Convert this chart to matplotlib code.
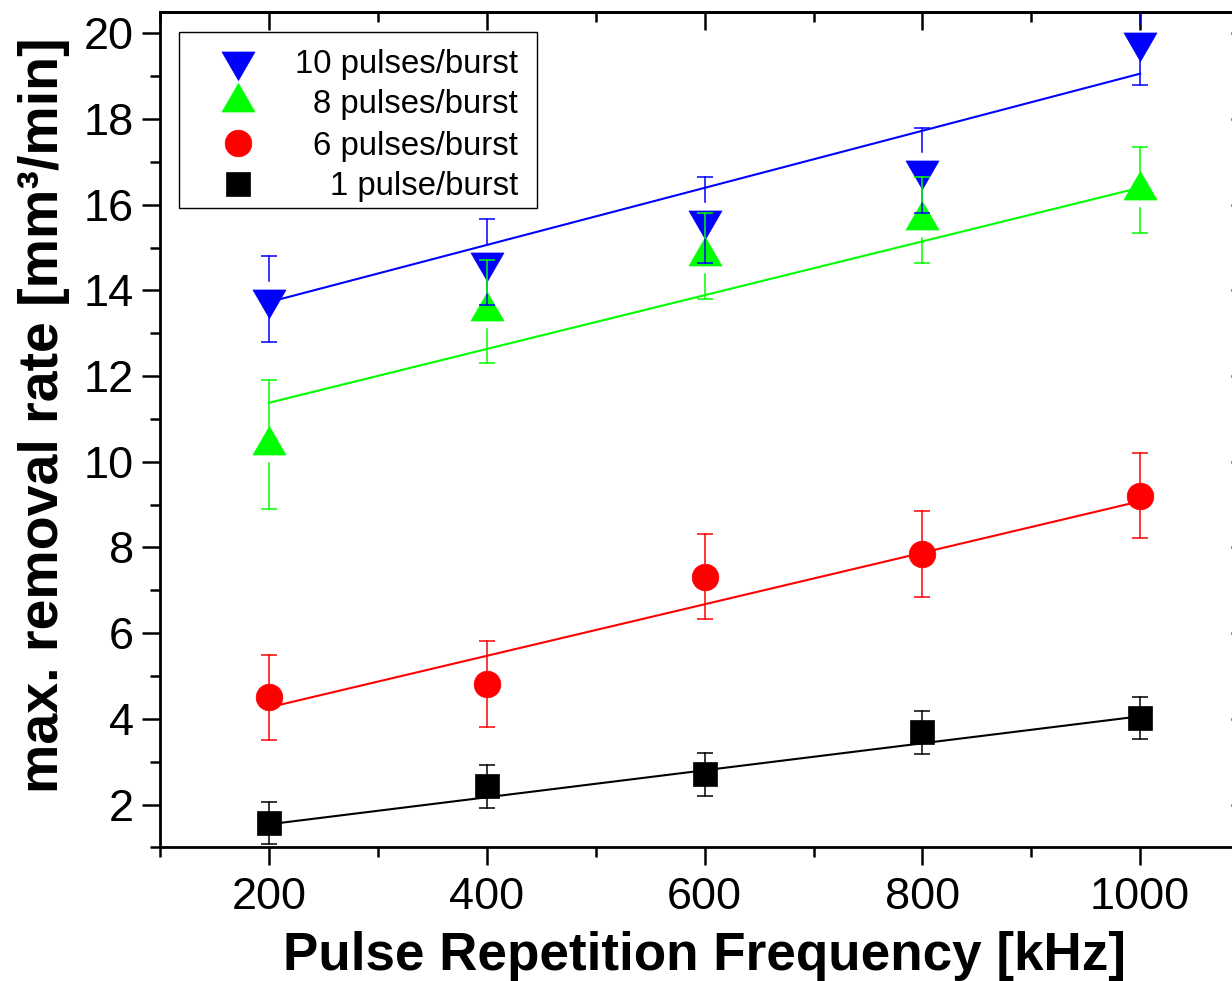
import numpy as np
import matplotlib
matplotlib.use('Agg')
import matplotlib.pyplot as plt
from matplotlib.path import Path
from matplotlib.patches import Rectangle
from matplotlib.ticker import MultipleLocator

plt.rcParams['font.family'] = ['Liberation Sans', 'DejaVu Sans']

# ---------------- data ----------------
freq = [200, 400, 600, 800, 1000]
series_labels = ['10 pulses/burst', '8 pulses/burst', '6 pulses/burst', '1 pulse/burst']

rate_10 = [13.8, 14.67, 15.64, 16.8, 19.8]
err_10 = [1.0, 1.0, 1.0, 1.0, 1.0]
rate_8 = [10.4, 13.51, 14.8, 15.65, 16.35]
err_8 = [1.5, 1.2, 1.0, 1.0, 1.0]
rate_6 = [4.5, 4.82, 7.32, 7.85, 9.21]
err_6 = [1.0, 1.0, 1.0, 1.0, 1.0]
rate_1 = [1.57, 2.43, 2.71, 3.69, 4.02]
err_1 = [0.5, 0.5, 0.5, 0.5, 0.5]

fit_x = [200, 1000]
fit_10 = [13.73, 19.06]
fit_8 = [11.38, 16.40]
fit_6 = [4.27, 9.08]
fit_1 = [1.54, 4.06]

x_ticks = [200, 400, 600, 800, 1000]
y_ticks = [2, 4, 6, 8, 10, 12, 14, 16, 18, 20]

# ---------------- styles ----------------
s = 0.5774
tri_up = Path([(0, 2 * s), (-1, -s), (1, -s), (0, 2 * s)],
              [Path.MOVETO, Path.LINETO, Path.LINETO, Path.CLOSEPOLY])
tri_dn = Path([(0, -2 * s), (-1, s), (1, s), (0, -2 * s)],
              [Path.MOVETO, Path.LINETO, Path.LINETO, Path.CLOSEPOLY])

series = [
    dict(y=rate_10, e=err_10, fit=fit_10, color='#0000ff', marker=tri_dn, ms=27.4, gap=18),
    dict(y=rate_8, e=err_8, fit=fit_8, color='#00ff00', marker=tri_up, ms=27.4, gap=18),
    dict(y=rate_6, e=err_6, fit=fit_6, color='#ff0000', marker='o', ms=19.2, gap=0),
    dict(y=rate_1, e=err_1, fit=fit_1, color='#000000', marker='s', ms=17.5, gap=0),
]

fig = plt.figure(figsize=(12.32, 9.81), dpi=100)
ax = fig.add_axes([0.1302, 0.1362, 0.8836, 0.8516])
ax.set_xlim(100, 1100)
ax.set_ylim(1, 20.5)

# fit lines
for sd in series:
    ax.plot(fit_x, sd['fit'], color=sd['color'], lw=1.5, zorder=2.0)

# markers
for sd in series:
    ax.plot(freq, sd['y'], ls='none', marker=sd['marker'], ms=sd['ms'],
            color=sd['color'], mec=sd['color'], mew=0.5, zorder=2.1)

# error bars (with gap around triangle symbols, as in the original)
inv = ax.transData.inverted()
for sd in series:
    for xi, yi, ei in zip(freq, sd['y'], sd['e']):
        xd, yd = ax.transData.transform((xi, yi))
        y_up = inv.transform((xd, yd + sd['gap']))[1]
        y_dn = inv.transform((xd, yd - sd['gap']))[1]
        ax.plot([xi, xi], [y_up, yi + ei], color=sd['color'], lw=1.1, zorder=2.2)
        ax.plot([xi, xi], [y_dn, yi - ei], color=sd['color'], lw=1.1, zorder=2.2)
    ax.plot(freq, np.array(sd['y']) + np.array(sd['e']), ls='none', marker='_',
            ms=12.2, mew=1.1, color=sd['color'], zorder=2.2)
    ax.plot(freq, np.array(sd['y']) - np.array(sd['e']), ls='none', marker='_',
            ms=12.2, mew=1.1, color=sd['color'], zorder=2.2)

# axes styling
for sp in ax.spines.values():
    sp.set_linewidth(2.0)
ax.xaxis.set_major_locator(MultipleLocator(200))
ax.xaxis.set_minor_locator(MultipleLocator(100))
ax.yaxis.set_major_locator(MultipleLocator(2))
ax.yaxis.set_minor_locator(MultipleLocator(1))
ax.set_xticks(x_ticks)
ax.set_yticks(y_ticks)
ax.tick_params(which='major', direction='out', length=13, width=1.8,
               labelsize=32.5, pad=6)
ax.tick_params(which='minor', direction='out', length=7, width=1.8)
ax.tick_params(axis='x', pad=8)

sx = ax.secondary_xaxis('top')
sx.xaxis.set_major_locator(MultipleLocator(200))
sx.xaxis.set_minor_locator(MultipleLocator(100))
sx.tick_params(which='major', direction='in', length=13, width=1.8, labeltop=False)
sx.tick_params(which='minor', direction='in', length=7, width=1.8)
sx.spines['top'].set_linewidth(2.0)
sy = ax.secondary_yaxis('right')
sy.yaxis.set_major_locator(MultipleLocator(2))
sy.yaxis.set_minor_locator(MultipleLocator(1))
sy.tick_params(which='major', direction='in', length=13, width=1.8, labelright=False)
sy.tick_params(which='minor', direction='in', length=7, width=1.8)
sy.spines['right'].set_linewidth(2.0)

ax.set_xlabel('Pulse Repetition Frequency [kHz]', fontsize=38.2, fontweight='bold', labelpad=10)
ax.set_ylabel('max. removal rate [mm\u00b3/min]', fontsize=40, fontweight='bold')
ax.yaxis.set_label_coords(-0.0835, 0.5176)

# legend (drawn manually to get right-aligned labels)
ax_h = 835.4
ax_w = 1088.6
ax.add_patch(Rectangle((0.0171, 0.765), 0.3289, 0.2111, transform=ax.transAxes,
                       facecolor='white', edgecolor='black', lw=1.0, zorder=5))
row_px = [61.5, 102.0, 143.3, 184.0]
for sd, lab, rp in zip(series, series_labels, row_px):
    yf = 1 - (rp - 12) / ax_h
    ax.plot([0.071], [yf], transform=ax.transAxes, ls='none', marker=sd['marker'],
            ms=sd['ms'], color=sd['color'], mec=sd['color'], mew=0.5, zorder=6,
            clip_on=False)
    ax.text(0.3285, yf - 11.5 / ax_h, lab, transform=ax.transAxes, ha='right',
            va='baseline', fontsize=23.7, zorder=6)

fig.savefig('out.png', dpi=100)
